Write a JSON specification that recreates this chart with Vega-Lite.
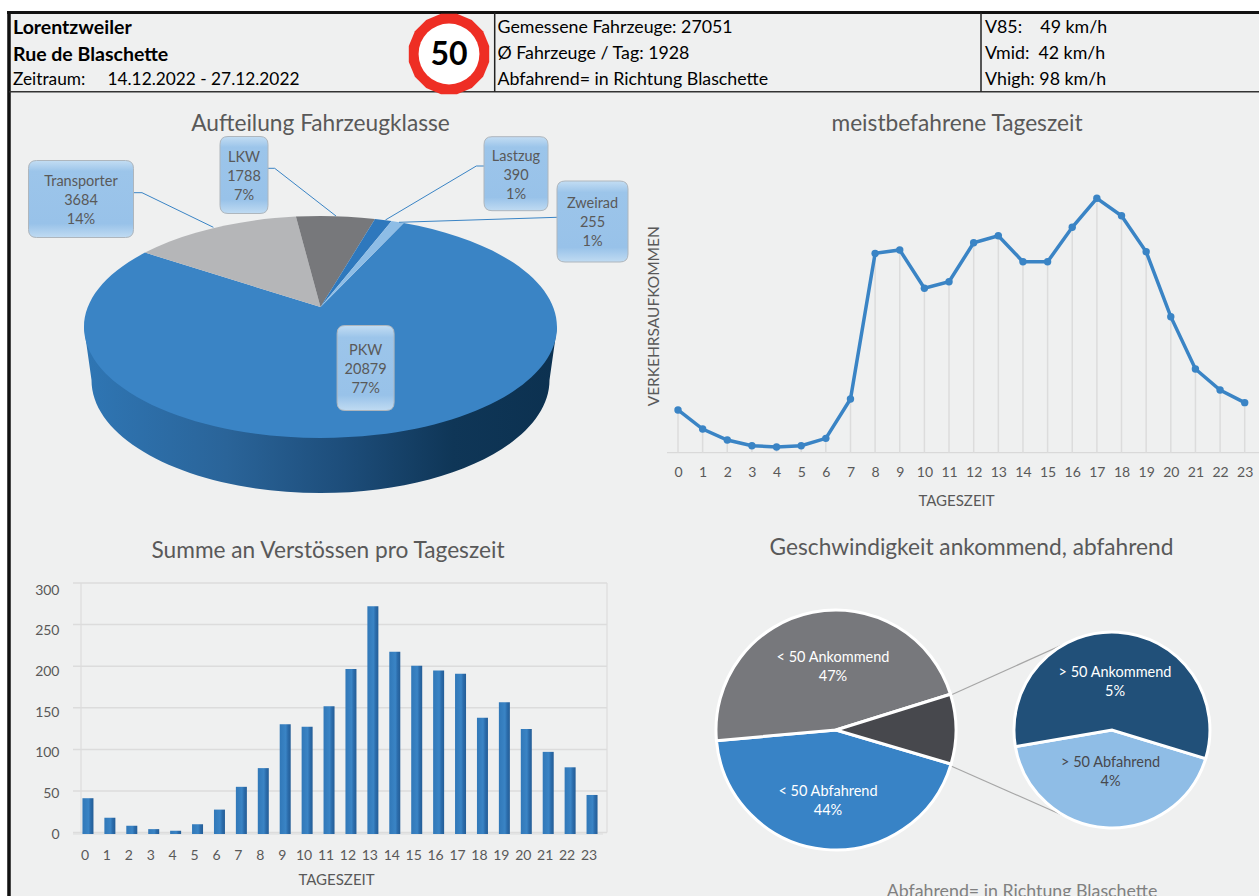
{"$schema":"https://vega.github.io/schema/vega-lite/v6.json","width":1259,"height":896,"padding":0,"autosize":{"type":"none"},"background":"#eff0f0","config":{"view":{"stroke":null},"font":"Lato","axis":{"labelFont":"Lato","titleFont":"Lato","labelColor":"#595959","titleColor":"#595959","titleFontWeight":"normal","labelFontSize":14,"titleFontSize":15,"grid":false,"ticks":false,"domain":false},"text":{"font":"Lato"}},"data":{"values":[{"ebene":"layout"}]},"datasets":{"klassen":[{"klasse":"PKW","anzahl":20879,"anteil":77,"label":"PKW\n20879\n77%"},{"klasse":"Transporter","anzahl":3684,"anteil":14,"label":"Transporter\n3684\n14%"},{"klasse":"LKW","anzahl":1788,"anteil":7,"label":"LKW\n1788\n7%"},{"klasse":"Lastzug","anzahl":390,"anteil":1,"label":"Lastzug\n390\n1%"},{"klasse":"Zweirad","anzahl":255,"anteil":1,"label":"Zweirad\n255\n1%"}],"verkehr":[{"stunde":0,"fahrzeuge":390},{"stunde":1,"fahrzeuge":216},{"stunde":2,"fahrzeuge":116},{"stunde":3,"fahrzeuge":64},{"stunde":4,"fahrzeuge":52},{"stunde":5,"fahrzeuge":64},{"stunde":6,"fahrzeuge":131},{"stunde":7,"fahrzeuge":490},{"stunde":8,"fahrzeuge":1820},{"stunde":9,"fahrzeuge":1851},{"stunde":10,"fahrzeuge":1501},{"stunde":11,"fahrzeuge":1561},{"stunde":12,"fahrzeuge":1917},{"stunde":13,"fahrzeuge":1981},{"stunde":14,"fahrzeuge":1744},{"stunde":15,"fahrzeuge":1744},{"stunde":16,"fahrzeuge":2058},{"stunde":17,"fahrzeuge":2323},{"stunde":18,"fahrzeuge":2164},{"stunde":19,"fahrzeuge":1835},{"stunde":20,"fahrzeuge":1242},{"stunde":21,"fahrzeuge":764},{"stunde":22,"fahrzeuge":572},{"stunde":23,"fahrzeuge":457}],"verstoesse":[{"stunde":0,"anzahl":44},{"stunde":1,"anzahl":20},{"stunde":2,"anzahl":10},{"stunde":3,"anzahl":6},{"stunde":4,"anzahl":4},{"stunde":5,"anzahl":12},{"stunde":6,"anzahl":30},{"stunde":7,"anzahl":58},{"stunde":8,"anzahl":81},{"stunde":9,"anzahl":135},{"stunde":10,"anzahl":132},{"stunde":11,"anzahl":157},{"stunde":12,"anzahl":203},{"stunde":13,"anzahl":280},{"stunde":14,"anzahl":224},{"stunde":15,"anzahl":207},{"stunde":16,"anzahl":201},{"stunde":17,"anzahl":197},{"stunde":18,"anzahl":143},{"stunde":19,"anzahl":162},{"stunde":20,"anzahl":129},{"stunde":21,"anzahl":101},{"stunde":22,"anzahl":82},{"stunde":23,"anzahl":48}],"raster":[{"wert":0},{"wert":50},{"wert":100},{"wert":150},{"wert":200},{"wert":250},{"wert":300}],"gesamt":[{"segment":"< 50 Abfahrend","wert":44},{"segment":"< 50 Ankommend","wert":46.6},{"segment":"> 50 gesamt","wert":9.4}],"detail":[{"segment":"> 50 Abfahrend","wert":4.0},{"segment":"> 50 Ankommend","wert":5.4}],"geschwLabels":[{"segment":"> 50 Abfahrend","wert":4.0,"label":"> 50 Abfahrend\n4%"},{"segment":"> 50 Ankommend","wert":5.4,"label":"> 50 Ankommend\n5%"},{"segment":"< 50 Abfahrend","wert":44,"label":"< 50 Abfahrend\n44%"},{"segment":"< 50 Ankommend","wert":46.6,"label":"< 50 Ankommend\n47%"}]},"resolve":{"scale":{"x":"independent","y":"independent","theta":"independent","color":"independent","shape":"independent"},"axis":{"x":"independent","y":"independent"}},"layer":[
{"mark":{"type":"rect","color":"#ffffff"},"encoding":{"x":{"datum":0,"scale":{"domain":[0,1]},"axis":null},"x2":{"datum":1},"y":{"datum":0,"scale":{"domain":[1,0]},"axis":null},"y2":{"datum":0.0123}}},
{"mark":{"type":"rect","color":"#ffffff"},"encoding":{"x":{"datum":0,"scale":{"domain":[0,1]},"axis":null},"x2":{"datum":0.0056},"y":{"datum":0,"scale":{"domain":[1,0]},"axis":null},"y2":{"datum":1}}},
{"mark":{"type":"rule","color":"#111111","strokeWidth":3},"encoding":{"x":{"datum":0.0056,"scale":{"domain":[0,1]},"axis":null},"x2":{"datum":1},"y":{"datum":0.01395,"scale":{"domain":[1,0]},"axis":null}}},
{"mark":{"type":"rule","color":"#111111","strokeWidth":3.5},"encoding":{"x":{"datum":0.00715,"scale":{"domain":[0,1]},"axis":null},"y":{"datum":0.0123,"scale":{"domain":[1,0]},"axis":null},"y2":{"datum":1}}},
{"mark":{"type":"rule","color":"#333333","strokeWidth":1.5},"encoding":{"x":{"datum":0.00715,"scale":{"domain":[0,1]},"axis":null},"x2":{"datum":1},"y":{"datum":0.10246,"scale":{"domain":[1,0]},"axis":null}}},
{"mark":{"type":"rule","color":"#222222","strokeWidth":1.5},"encoding":{"x":{"datum":0.39293,"scale":{"domain":[0,1]},"axis":null},"y":{"datum":0.014,"scale":{"domain":[1,0]},"axis":null},"y2":{"datum":0.10246}}},
{"mark":{"type":"rule","color":"#222222","strokeWidth":1.5},"encoding":{"x":{"datum":0.77919,"scale":{"domain":[0,1]},"axis":null},"y":{"datum":0.014,"scale":{"domain":[1,0]},"axis":null},"y2":{"datum":0.10246}}},
{"mark":{"type":"text","text":"Lorentzweiler","align":"left","baseline":"middle","fontSize":19.5,"fontWeight":"bold","color":"#000000"},"encoding":{"x":{"datum":0.01033,"scale":{"domain":[0,1]},"axis":null},"y":{"datum":0.0318,"scale":{"domain":[1,0]},"axis":null}}},
{"mark":{"type":"text","text":"Rue de Blaschette","align":"left","baseline":"middle","fontSize":19.5,"fontWeight":"bold","color":"#000000"},"encoding":{"x":{"datum":0.01033,"scale":{"domain":[0,1]},"axis":null},"y":{"datum":0.06194,"scale":{"domain":[1,0]},"axis":null}}},
{"mark":{"type":"text","text":"Zeitraum:\u00a0\u00a0\u00a0\u00a0\u00a014.12.2022 - 27.12.2022","align":"left","baseline":"middle","fontSize":17.3,"color":"#000000"},"encoding":{"x":{"datum":0.01033,"scale":{"domain":[0,1]},"axis":null},"y":{"datum":0.08984,"scale":{"domain":[1,0]},"axis":null}}},
{"mark":{"type":"text","text":"Gemessene Fahrzeuge: 27051\nØ Fahrzeuge / Tag: 1928\nAbfahrend= in Richtung Blaschette","lineBreak":"\n","lineHeight":26,"align":"left","baseline":"middle","fontSize":17.8,"color":"#000000"},"encoding":{"x":{"datum":0.39515,"scale":{"domain":[0,1]},"axis":null},"y":{"datum":0.0318,"scale":{"domain":[1,0]},"axis":null}}},
{"mark":{"type":"text","text":"V85:\u00a0\u00a0\u00a0\u00a049 km/h\nVmid:\u00a0\u00a042 km/h\nVhigh: 98 km/h","lineBreak":"\n","lineHeight":26,"align":"left","baseline":"middle","fontSize":17.8,"color":"#000000"},"encoding":{"x":{"datum":0.78237,"scale":{"domain":[0,1]},"axis":null},"y":{"datum":0.0318,"scale":{"domain":[1,0]},"axis":null}}},
{"data":{"values":[{"tempolimit":50}]},"mark":{"type":"point","filled":true,"opacity":1,"size":4,"shape":"M8,-40.2L22.8,-34.1L34.1,-22.8L40.2,-8L40.2,8L34.1,22.8L22.8,34.1L8,40.2L-8,40.2L-22.8,34.1L-34.1,22.8L-40.2,8L-40.2,-8L-34.1,-22.8L-22.8,-34.1L-8,-40.2Z","color":"#ee2e24"},"encoding":{"x":{"datum":0.35663,"scale":{"domain":[0,1]},"axis":null},"y":{"datum":0.06027,"scale":{"domain":[1,0]},"axis":null}}},
{"data":{"values":[{"tempolimit":50}]},"mark":{"type":"point","filled":true,"opacity":1,"size":3700,"shape":"circle","color":"#ffffff"},"encoding":{"x":{"datum":0.35663,"scale":{"domain":[0,1]},"axis":null},"y":{"datum":0.06027,"scale":{"domain":[1,0]},"axis":null}}},
{"data":{"values":[{"tempolimit":50}]},"mark":{"type":"text","baseline":"middle","fontSize":32,"fontWeight":"bold","color":"#000000"},"encoding":{"text":{"field":"tempolimit","type":"quantitative"},"x":{"datum":0.35663,"scale":{"domain":[0,1]},"axis":null},"y":{"datum":0.06194,"scale":{"domain":[1,0]},"axis":null}}},
{"mark":{"type":"text","text":"Aufteilung Fahrzeugklasse","baseline":"middle","fontSize":22.7,"color":"#595959"},"encoding":{"x":{"datum":0.25457,"scale":{"domain":[0,1]},"axis":null},"y":{"datum":0.13895,"scale":{"domain":[1,0]},"axis":null}}},
{"mark":{"type":"text","text":"meistbefahrene Tageszeit","baseline":"middle","fontSize":22.7,"color":"#595959"},"encoding":{"x":{"datum":0.76013,"scale":{"domain":[0,1]},"axis":null},"y":{"datum":0.13895,"scale":{"domain":[1,0]},"axis":null}}},
{"mark":{"type":"text","text":"Summe an Verstössen pro Tageszeit","baseline":"middle","fontSize":22.7,"color":"#595959"},"encoding":{"x":{"datum":0.26053,"scale":{"domain":[0,1]},"axis":null},"y":{"datum":0.61551,"scale":{"domain":[1,0]},"axis":null}}},
{"mark":{"type":"text","text":"Geschwindigkeit ankommend, abfahrend","baseline":"middle","fontSize":22.7,"color":"#595959"},"encoding":{"x":{"datum":0.77164,"scale":{"domain":[0,1]},"axis":null},"y":{"datum":0.61105,"scale":{"domain":[1,0]},"axis":null}}},
{"mark":{"type":"text","text":"Abfahrend= in Richtung Blaschette","baseline":"middle","fontSize":17.8,"color":"#808080"},"encoding":{"x":{"datum":0.81176,"scale":{"domain":[0,1]},"axis":null},"y":{"datum":0.995,"scale":{"domain":[1,0]},"axis":null}}},
{"data":{"name":"klassen"},"transform":[{"filter":"datum.klasse == 'PKW'"}],"mark":{"type":"point","filled":true,"opacity":1,"size":4,"shape":"M-236.5,0L-229,53A229,113 0 0 0 229,53L236.5,0Z","fill":{"gradient":"linear","x1":0,"x2":1,"y1":0,"y2":0,"stops":[{"offset":0,"color":"#2f76b4"},{"offset":0.3,"color":"#2a6499"},{"offset":0.55,"color":"#1d4d7a"},{"offset":0.78,"color":"#0f3657"},{"offset":1,"color":"#0c3150"}]}},"encoding":{"x":{"datum":0.25457,"scale":{"domain":[0,1]},"axis":null},"y":{"datum":0.36496,"scale":{"domain":[1,0]},"axis":null}}},
{"data":{"name":"klassen"},"mark":{"type":"point","filled":true,"opacity":1,"size":4},"encoding":{"x":{"datum":0.25457,"scale":{"domain":[0,1]},"axis":null},"y":{"datum":0.36496,"scale":{"domain":[1,0]},"axis":null},"color":{"field":"klasse","type":"nominal","legend":null,"scale":{"domain":["PKW","Transporter","LKW","Lastzug","Zweirad"],"range":["#3a84c5","#b5b6b8","#77787b","#2e78bd","#8ebde6"]}},"shape":{"field":"klasse","type":"nominal","legend":null,"scale":{"domain":["PKW","Transporter","LKW","Lastzug","Zweirad"],"range":["M0,-20L83.2,-103.9A236.5,111 0 1 1 -175.5,-74.4Z","M0,-20L-175.5,-74.4A236.5,111 0 0 1 -24.6,-110.4Z","M0,-20L-24.6,-110.4A236.5,111 0 0 1 54.5,-108Z","M0,-20L54.5,-108A236.5,111 0 0 1 71.1,-105.9Z","M0,-20L71.1,-105.9A236.5,111 0 0 1 83.2,-103.9Z"]}}}},
{"data":{"name":"klassen"},"transform":[{"filter":"datum.klasse != 'PKW'"}],"mark":{"type":"point","filled":false,"opacity":1,"size":4,"stroke":"#3a84c5","strokeWidth":1},"encoding":{"x":{"field":"anzahl","type":"quantitative","axis":null,"scale":{"domain":[255,390,1788,3684,20879],"range":[592.5,516,244,81,365.6],"nice":false,"zero":false}},"y":{"field":"anzahl","type":"quantitative","axis":null,"scale":{"domain":[255,390,1788,3684,20879],"range":[221.5,173.7,175,199,368],"nice":false,"zero":false}},"shape":{"field":"klasse","type":"nominal","legend":null,"scale":{"domain":["Transporter","LKW","Lastzug","Zweirad"],"range":["M52.5,-6.3L61,-6.3L132.4,28.3","M24,-6.7L30.7,-6.7L92,41","M-32,-7.7L-39.7,-7.7L-130.6,46.3","M-35.5,-4.2L-193.5,0.8"]}}}},
{"data":{"name":"klassen"},"mark":{"type":"point","filled":true,"opacity":1,"size":4,"stroke":"#aeb6bd","strokeWidth":1,"fill":{"gradient":"linear","x1":0,"x2":0,"y1":0,"y2":1,"stops":[{"offset":0,"color":"#c3ddf3"},{"offset":0.14,"color":"#9cc5ea"},{"offset":0.82,"color":"#98c2e9"},{"offset":1,"color":"#c0dbf2"}]}},"encoding":{"x":{"field":"anzahl","type":"quantitative","axis":null,"scale":{"domain":[255,390,1788,3684,20879],"range":[592.5,516,244,81,365.6],"nice":false,"zero":false}},"y":{"field":"anzahl","type":"quantitative","axis":null,"scale":{"domain":[255,390,1788,3684,20879],"range":[221.5,173.7,175,199,368],"nice":false,"zero":false}},"shape":{"field":"klasse","type":"nominal","legend":null,"scale":{"domain":["PKW","Transporter","LKW","Lastzug","Zweirad"],"range":["M-20.5,-42.5L20.5,-42.5Q28.5,-42.5 28.5,-34.5L28.5,34.5Q28.5,42.5 20.5,42.5L-20.5,42.5Q-28.5,42.5 -28.5,34.5L-28.5,-34.5Q-28.5,-42.5 -20.5,-42.5Z","M-44.5,-38.5L44.5,-38.5Q52.5,-38.5 52.5,-30.5L52.5,30.5Q52.5,38.5 44.5,38.5L-44.5,38.5Q-52.5,38.5 -52.5,30.5L-52.5,-30.5Q-52.5,-38.5 -44.5,-38.5Z","M-16,-38.5L16,-38.5Q24,-38.5 24,-30.5L24,30.5Q24,38.5 16,38.5L-16,38.5Q-24,38.5 -24,30.5L-24,-30.5Q-24,-38.5 -16,-38.5Z","M-24,-37L24,-37Q32,-37 32,-29L32,29Q32,37 24,37L-24,37Q-32,37 -32,29L-32,-29Q-32,-37 -24,-37Z","M-27.5,-40.5L27.5,-40.5Q35.5,-40.5 35.5,-32.5L35.5,32.5Q35.5,40.5 27.5,40.5L-27.5,40.5Q-35.5,40.5 -35.5,32.5L-35.5,-32.5Q-35.5,-40.5 -27.5,-40.5Z"]}}}},
{"data":{"name":"klassen"},"mark":{"type":"text","lineBreak":"\n","lineHeight":19,"baseline":"middle","fontSize":14.5,"color":"#595959"},"encoding":{"text":{"field":"label","type":"nominal"},"x":{"field":"anzahl","type":"quantitative","axis":null,"scale":{"domain":[255,390,1788,3684,20879],"range":[592.5,516,244,81,365.6],"nice":false,"zero":false}},"y":{"field":"anzahl","type":"quantitative","axis":null,"scale":{"domain":[255,390,1788,3684,20879],"range":[203.5,156.5,157.5,181.5,350.5],"nice":false,"zero":false}}}},
{"mark":{"type":"rule","color":"#d9d9d9","strokeWidth":1.2},"encoding":{"x":{"datum":0.52979,"scale":{"domain":[0,1]},"axis":null},"x2":{"datum":1},"y":{"datum":0.50525,"scale":{"domain":[1,0]},"axis":null}}},
{"data":{"name":"verkehr"},"mark":{"type":"rule","color":"#dcdcdc","strokeWidth":1.5},"encoding":{"x":{"field":"stunde","type":"ordinal","axis":null,"scale":{"type":"point","padding":0,"range":[678,1244.7]}},"y":{"field":"fahrzeuge","type":"quantitative","axis":null,"scale":{"domain":[0,2500],"range":[452.7,178.9],"nice":false}},"y2":{"datum":0}}},
{"data":{"name":"verkehr"},"mark":{"type":"line","color":"#3a84c5","strokeWidth":3.5},"encoding":{"x":{"field":"stunde","type":"ordinal","scale":{"type":"point","padding":0,"range":[678,1244.7]},"axis":{"orient":"bottom","offset":-443.3,"labelAngle":0,"labelPadding":13,"title":"TAGESZEIT","titleX":956,"titlePadding":14}},"y":{"field":"fahrzeuge","type":"quantitative","scale":{"domain":[0,2500],"range":[452.7,178.9],"nice":false},"axis":{"orient":"left","offset":-676,"labels":false,"title":"VERKEHRSAUFKOMMEN","titlePadding":15,"titleFontSize":15.5}}}},
{"data":{"name":"verkehr"},"mark":{"type":"point","filled":true,"opacity":1,"size":55,"color":"#3a84c5"},"encoding":{"x":{"field":"stunde","type":"ordinal","axis":null,"scale":{"type":"point","padding":0,"range":[678,1244.7]}},"y":{"field":"fahrzeuge","type":"quantitative","axis":null,"scale":{"domain":[0,2500],"range":[452.7,178.9],"nice":false}}}},
{"mark":{"type":"rule","color":"#dcdcdc","strokeWidth":1.2},"encoding":{"x":{"datum":0.06434,"scale":{"domain":[0,1]},"axis":null},"y":{"datum":0.65067,"scale":{"domain":[1,0]},"axis":null},"y2":{"datum":0.92924}}},
{"mark":{"type":"rule","color":"#dcdcdc","strokeWidth":1.2},"encoding":{"x":{"datum":0.48213,"scale":{"domain":[0,1]},"axis":null},"y":{"datum":0.65067,"scale":{"domain":[1,0]},"axis":null},"y2":{"datum":0.92924}}},
{"mark":{"type":"rule","color":"#dcdcdc","strokeWidth":1.2},"encoding":{"x":{"datum":0.05798,"scale":{"domain":[0,1]},"axis":null},"x2":{"datum":0.47895},"y":{"datum":0.9308,"scale":{"domain":[1,0]},"axis":null}}},
{"data":{"name":"raster"},"mark":{"type":"rule","color":"#dcdcdc","strokeWidth":1.5},"encoding":{"x":{"datum":0.05798,"scale":{"domain":[0,1]},"axis":null},"x2":{"datum":0.48213},"y":{"field":"wert","type":"quantitative","axis":null,"scale":{"domain":[0,300],"range":[832.6,583],"nice":false}}}},
{"data":{"name":"verstoesse"},"mark":{"type":"bar","width":11,"fill":{"gradient":"linear","x1":0,"x2":1,"y1":0,"y2":0,"stops":[{"offset":0,"color":"#3178b8"},{"offset":0.55,"color":"#3a84c5"},{"offset":0.75,"color":"#2b6cab"},{"offset":1,"color":"#245d96"}]}},"encoding":{"x":{"field":"stunde","type":"ordinal","scale":{"type":"band","range":[77,603],"paddingInner":0.5,"paddingOuter":0.25},"axis":{"orient":"bottom","offset":-62,"labelAngle":0,"labelOffset":-3,"labelPadding":14,"title":"TAGESZEIT","titleX":336,"titlePadding":10}},"y":{"field":"anzahl","type":"quantitative","scale":{"domain":[0,300],"range":[834,590],"nice":false},"axis":{"orient":"left","offset":-72,"labelPadding":13,"title":null,"values":[0,50,100,150,200,250,300]}}}},
{"mark":{"type":"rule","color":"#a6a6a6","strokeWidth":1.2},"encoding":{"x":{"datum":0.75536,"scale":{"domain":[0,1]},"axis":null},"x2":{"datum":0.84353},"y":{"datum":0.77567,"scale":{"domain":[1,0]},"axis":null},"y2":{"datum":0.71987}}},
{"mark":{"type":"rule","color":"#a6a6a6","strokeWidth":1.2},"encoding":{"x":{"datum":0.75536,"scale":{"domain":[0,1]},"axis":null},"x2":{"datum":0.84353},"y":{"datum":0.85491,"scale":{"domain":[1,0]},"axis":null},"y2":{"datum":0.9096}}},
{"data":{"name":"gesamt"},"mark":{"type":"arc","outerRadius":120,"stroke":"#ffffff","strokeWidth":3},"encoding":{"x":{"datum":0.664,"scale":{"domain":[0,1]},"axis":null},"y":{"datum":0.8147,"scale":{"domain":[1,0]},"axis":null},"theta":{"field":"wert","type":"quantitative","stack":true,"scale":{"domain":[0,100],"range":[1.8588,8.142]}},"order":{"field":"segment","sort":"ascending"},"color":{"field":"segment","type":"nominal","legend":null,"scale":{"domain":["< 50 Abfahrend","< 50 Ankommend","> 50 gesamt"],"range":["#3883c6","#77787c","#47484d"]}}}},
{"data":{"name":"detail"},"mark":{"type":"arc","outerRadius":98,"stroke":"#ffffff","strokeWidth":3},"encoding":{"x":{"datum":0.8832,"scale":{"domain":[0,1]},"axis":null},"y":{"datum":0.8147,"scale":{"domain":[1,0]},"axis":null},"theta":{"field":"wert","type":"quantitative","stack":true,"scale":{"domain":[0,9.4],"range":[1.8675,8.1507]}},"order":{"field":"segment","sort":"ascending"},"color":{"field":"segment","type":"nominal","legend":null,"scale":{"domain":["> 50 Abfahrend","> 50 Ankommend"],"range":["#8fbde6","#215079"]}}}},
{"data":{"name":"geschwLabels"},"mark":{"type":"text","lineBreak":"\n","lineHeight":19,"baseline":"middle","fontSize":14.5},"encoding":{"text":{"field":"label","type":"nominal"},"x":{"field":"wert","type":"quantitative","axis":null,"scale":{"domain":[4,5.4,44,46.6],"range":[1110.6,1115,828,833],"nice":false,"zero":false}},"y":{"field":"wert","type":"quantitative","axis":null,"scale":{"domain":[4,5.4,44,46.6],"range":[763,673,792,658],"nice":false,"zero":false}},"color":{"field":"segment","type":"nominal","legend":null,"scale":{"domain":["> 50 Abfahrend","> 50 Ankommend","< 50 Abfahrend","< 50 Ankommend"],"range":["#47484d","#ffffff","#ffffff","#ffffff"]}}}}
]}
